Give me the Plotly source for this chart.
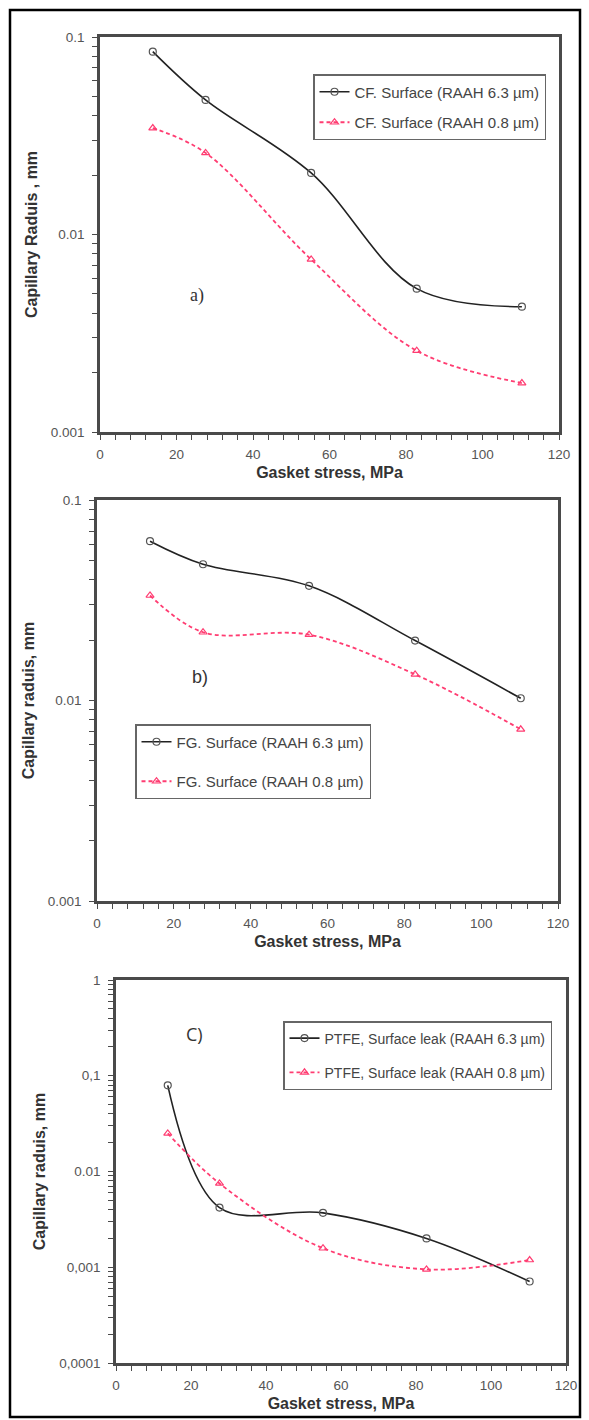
import plotly.graph_objects as go

# ---------------- data ----------------
stress = [13.8, 27.6, 55.2, 82.8, 110.3]

cf_63 = [0.0843, 0.048, 0.0205, 0.00532, 0.00431]
cf_08 = [0.0346, 0.0259, 0.00748, 0.00258, 0.00177]

fg_63 = [0.0623, 0.0478, 0.0373, 0.0199, 0.01026]
fg_08 = [0.0334, 0.0219, 0.0213, 0.0135, 0.00718]

ptfe_63 = [0.0794, 0.0042, 0.0037, 0.0020, 0.00071]
ptfe_08 = [0.025, 0.0075, 0.00158, 0.00095, 0.00119]

names_a = ["CF. Surface (RAAH 6.3 \u00b5m)", "CF. Surface (RAAH 0.8 \u00b5m)"]
names_b = ["FG. Surface (RAAH 6.3 \u00b5m)", "FG. Surface (RAAH 0.8 \u00b5m)"]
names_c = ["PTFE, Surface leak (RAAH 6.3 \u00b5m)", "PTFE, Surface leak (RAAH 0.8 \u00b5m)"]

y_ticks_ab = [0.001, 0.01, 0.1]
y_text_ab = ["0.001", "0.01", "0.1"]
y_ticks_c = [0.0001, 0.001, 0.01, 0.1, 1]
y_text_c = ["0,0001", "0,001", "0.01", "0,1", "1"]

# ---------------- styling ----------------
W, H = 589, 1420
BLACK = "#222222"
RED = "#ff3d72"
AX = "#4a4a4a"
FONT = "Liberation Sans, Arial, sans-serif"


def px_x(p):
    return p / W


def px_y(p):
    return 1 - p / H


def log_minor(lo_exp, hi_exp):
    vals = []
    for e in range(lo_exp, hi_exp):
        for m in (2, 3, 4, 5, 6, 7, 8, 9):
            vals.append(m * 10.0 ** e)
    return vals


fig = go.Figure()

panels = [
    dict(xa="x", ya="y", data=(cf_63, cf_08), names=names_a, legend="legend"),
    dict(xa="x2", ya="y2", data=(fg_63, fg_08), names=names_b, legend="legend2"),
    dict(xa="x3", ya="y3", data=(ptfe_63, ptfe_08), names=names_c, legend="legend3"),
]

for i, p in enumerate(panels):
    s63, s08 = p["data"]
    fig.add_trace(go.Scatter(
        x=stress, y=s63, name=p["names"][0], mode="lines+markers",
        xaxis=p["xa"], yaxis=p["ya"], legend=p["legend"], legendgroup=f"g{i}a",
        line=dict(color=BLACK, width=1.6, shape="spline", smoothing=1.0),
        marker=dict(symbol="circle-open", size=7, color="#555555", line=dict(width=1.2)),
    ))
    fig.add_trace(go.Scatter(
        x=stress, y=s08, name=p["names"][1], mode="lines+markers",
        xaxis=p["xa"], yaxis=p["ya"], legend=p["legend"], legendgroup=f"g{i}b",
        line=dict(color=RED, width=1.8, dash="4px,3px", shape="spline", smoothing=1.0),
        marker=dict(symbol="triangle-up-open", size=7, color=RED, line=dict(width=1.2)),
    ))

# domains (pixel based)
dom = [
    dict(x=(100, 559), y=(37, 432)),
    dict(x=(97, 558), y=(500, 901)),
    dict(x=(116, 566), y=(980, 1363)),
]
ytitles = ["Capillary Raduis , mm", "Capillary raduis, mm", "Capillary raduis, mm"]
yranges = [(-3, -1), (-3, -1), (-4, 0)]
yticks = [(y_ticks_ab, y_text_ab), (y_ticks_ab, y_text_ab), (y_ticks_c, y_text_c)]
yminor = [log_minor(-3, -1), log_minor(-3, -1), log_minor(-4, 0)]

layout = dict(
    width=W, height=H, margin=dict(l=0, r=0, t=0, b=0),
    paper_bgcolor="white", plot_bgcolor="white",
    font=dict(family=FONT, color="#444444"),
)

for i, d in enumerate(dom):
    sfx = "" if i == 0 else str(i + 1)
    layout["xaxis" + sfx] = dict(
        domain=[px_x(d["x"][0]), px_x(d["x"][1])],
        anchor="y" + sfx, range=[0, 120], tick0=0, dtick=20,
        showline=True, mirror=True, linecolor=AX, linewidth=2.5,
        ticks="outside", ticklen=5, tickcolor=AX, tickwidth=1.3,
        minor=dict(tick0=0, dtick=4, ticks="outside", ticklen=5, tickcolor=AX, tickwidth=1.2),
        showgrid=False, zeroline=False, automargin=False,
        ticklabelstandoff=3,
        tickfont=dict(size=13.5, color="#555555", family=FONT),
        title=dict(text="<b>Gasket stress, MPa</b>", standoff=6,
                   font=dict(size=16, color="#333333", family=FONT)),
    )
    tv, tt = yticks[i]
    layout["yaxis" + sfx] = dict(
        domain=[px_y(d["y"][1]), px_y(d["y"][0])],
        anchor="x" + sfx, type="log", range=list(yranges[i]),
        tickmode="array", tickvals=tv, ticktext=tt,
        showline=True, mirror=True, linecolor=AX, linewidth=2.5,
        ticks="outside", ticklen=5, tickcolor=AX, tickwidth=1.3,
        minor=dict(tickmode="array", tickvals=yminor[i], ticks="outside",
                   ticklen=5, tickcolor=AX, tickwidth=1.2),
        showgrid=False, zeroline=False, automargin=False,
        ticklabelstandoff=5,
        tickfont=dict(size=13.5, color="#555555", family=FONT),
        title=dict(text="<b>" + ytitles[i] + "</b>", standoff=10,
                   font=dict(size=16, color="#333333", family=FONT)),
    )

leg_common = dict(
    bgcolor="white", bordercolor="#666666", borderwidth=1.5,
    font=dict(size=15, color="#444444", family=FONT),
    xanchor="left", yanchor="top", traceorder="grouped",
    itemwidth=30,
)
layout["legend"] = dict(leg_common, x=px_x(313), y=px_y(74), tracegroupgap=8)
layout["legend2"] = dict(leg_common, x=px_x(135), y=px_y(724), tracegroupgap=17)
layout["legend3"] = dict(leg_common, x=px_x(283), y=px_y(1021), tracegroupgap=13,
                         font=dict(size=14, color="#444444", family=FONT))

layout["annotations"] = [
    dict(text="a)", x=px_x(197), y=px_y(283), xref="paper", yref="paper",
         showarrow=False, font=dict(size=18, family="Liberation Serif, serif", color="#333333")),
    dict(text="b)", x=px_x(190), y=px_y(677), xref="paper", yref="paper",
         showarrow=False, font=dict(size=18, family=FONT, color="#333333")),
    dict(text="C)", x=px_x(184), y=px_y(1048), xref="paper", yref="paper",
         showarrow=False, font=dict(size=18, family="Open Sans, sans-serif", color="#333333")),
]

layout["shapes"] = [
    dict(type="rect", xref="paper", yref="paper",
         x0=px_x(10), x1=px_x(580), y0=px_y(1417), y1=px_y(10),
         line=dict(color="black", width=2.5), fillcolor="rgba(0,0,0,0)"),
]

fig.update_layout(**layout)
fig.write_html(
    "out.html",
    config={"displayModeBar": False},
    post_script="document.body.style.margin='0px';document.body.style.overflow='hidden';",
)
